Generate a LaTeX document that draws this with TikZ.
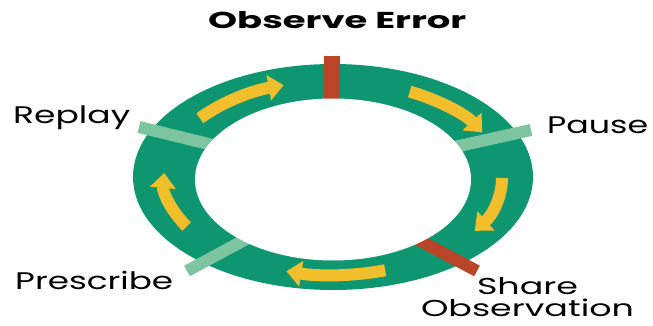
\documentclass[tikz,border=0pt]{standalone}
\usepackage{fontspec}
\setmainfont{Poppins}
\usetikzlibrary{arrows.meta}
\definecolor{ringgreen}{RGB}{14,150,112}
\definecolor{barlight}{RGB}{125,196,160}
\definecolor{barred}{RGB}{186,68,40}
\definecolor{arrowyellow}{RGB}{242,190,44}
\begin{document}
\begin{tikzpicture}[x=1pt,y=-1pt,
  yarrow/.style={draw=arrowyellow, line width=12pt, -{Triangle[width=25pt,length=15pt]}},
  bar/.style={line width=12pt},
  lbl/.style={inner sep=0pt, anchor=base west, font=\fontsize{24}{28}\selectfont},
]
\useasboundingbox (0,0) rectangle (653,326);
% ring
\fill[ringgreen] (333,177) ellipse [x radius=200, y radius=113];
% bars
\draw[bar, barred, line width=16pt] (331.5,56) -- (331.5,110);
\draw[bar, barlight] (450,148) -- (531,130);
\draw[bar, barred] (413,237) -- (477,271);
\draw[bar, barlight] (250,237) -- (187,271);
\draw[bar, barlight] (217,146) -- (139,127);
% hole
\fill[white] (333,179.5) ellipse [x radius=138, y radius=81];
% arrows
\draw[yarrow] (333,178) ++(218:169 and 97) arc[start angle=218, end angle=253, x radius=169, y radius=97];
\draw[yarrow] (333,178) ++(297:169 and 97) arc[start angle=297, end angle=332, x radius=169, y radius=97];
\draw[yarrow] (333,178) ++(0:169 and 97) arc[start angle=0, end angle=33, x radius=169, y radius=97];
\draw[yarrow] (333,178) ++(72:169 and 97) arc[start angle=72, end angle=106, x radius=169, y radius=97];
\draw[yarrow] (333,178) ++(150:169 and 97) arc[start angle=150, end angle=183, x radius=169, y radius=97];
% labels
\node[inner sep=0pt, anchor=base west, font=\bfseries\fontsize{23}{26}\selectfont] (title) at (208,29) {\resizebox{258pt}{\height}{Observe Error}};
\node[lbl] (replay) at (13,124) {\resizebox{117pt}{\height}{Replay}};
\node[lbl] (pause) at (547,133) {\resizebox{101pt}{\height}{Pause}};
\node[lbl] (prescribe) at (15,289) {\resizebox{158pt}{\height}{Prescribe}};
\node[inner sep=0pt, anchor=south, align=center, font=\fontsize{23}{22}\selectfont] (share) at (527.5,317)
  {\resizebox{101pt}{\height}{Share}\\\resizebox{213pt}{\height}{Observation}};
\end{tikzpicture}
\end{document}
